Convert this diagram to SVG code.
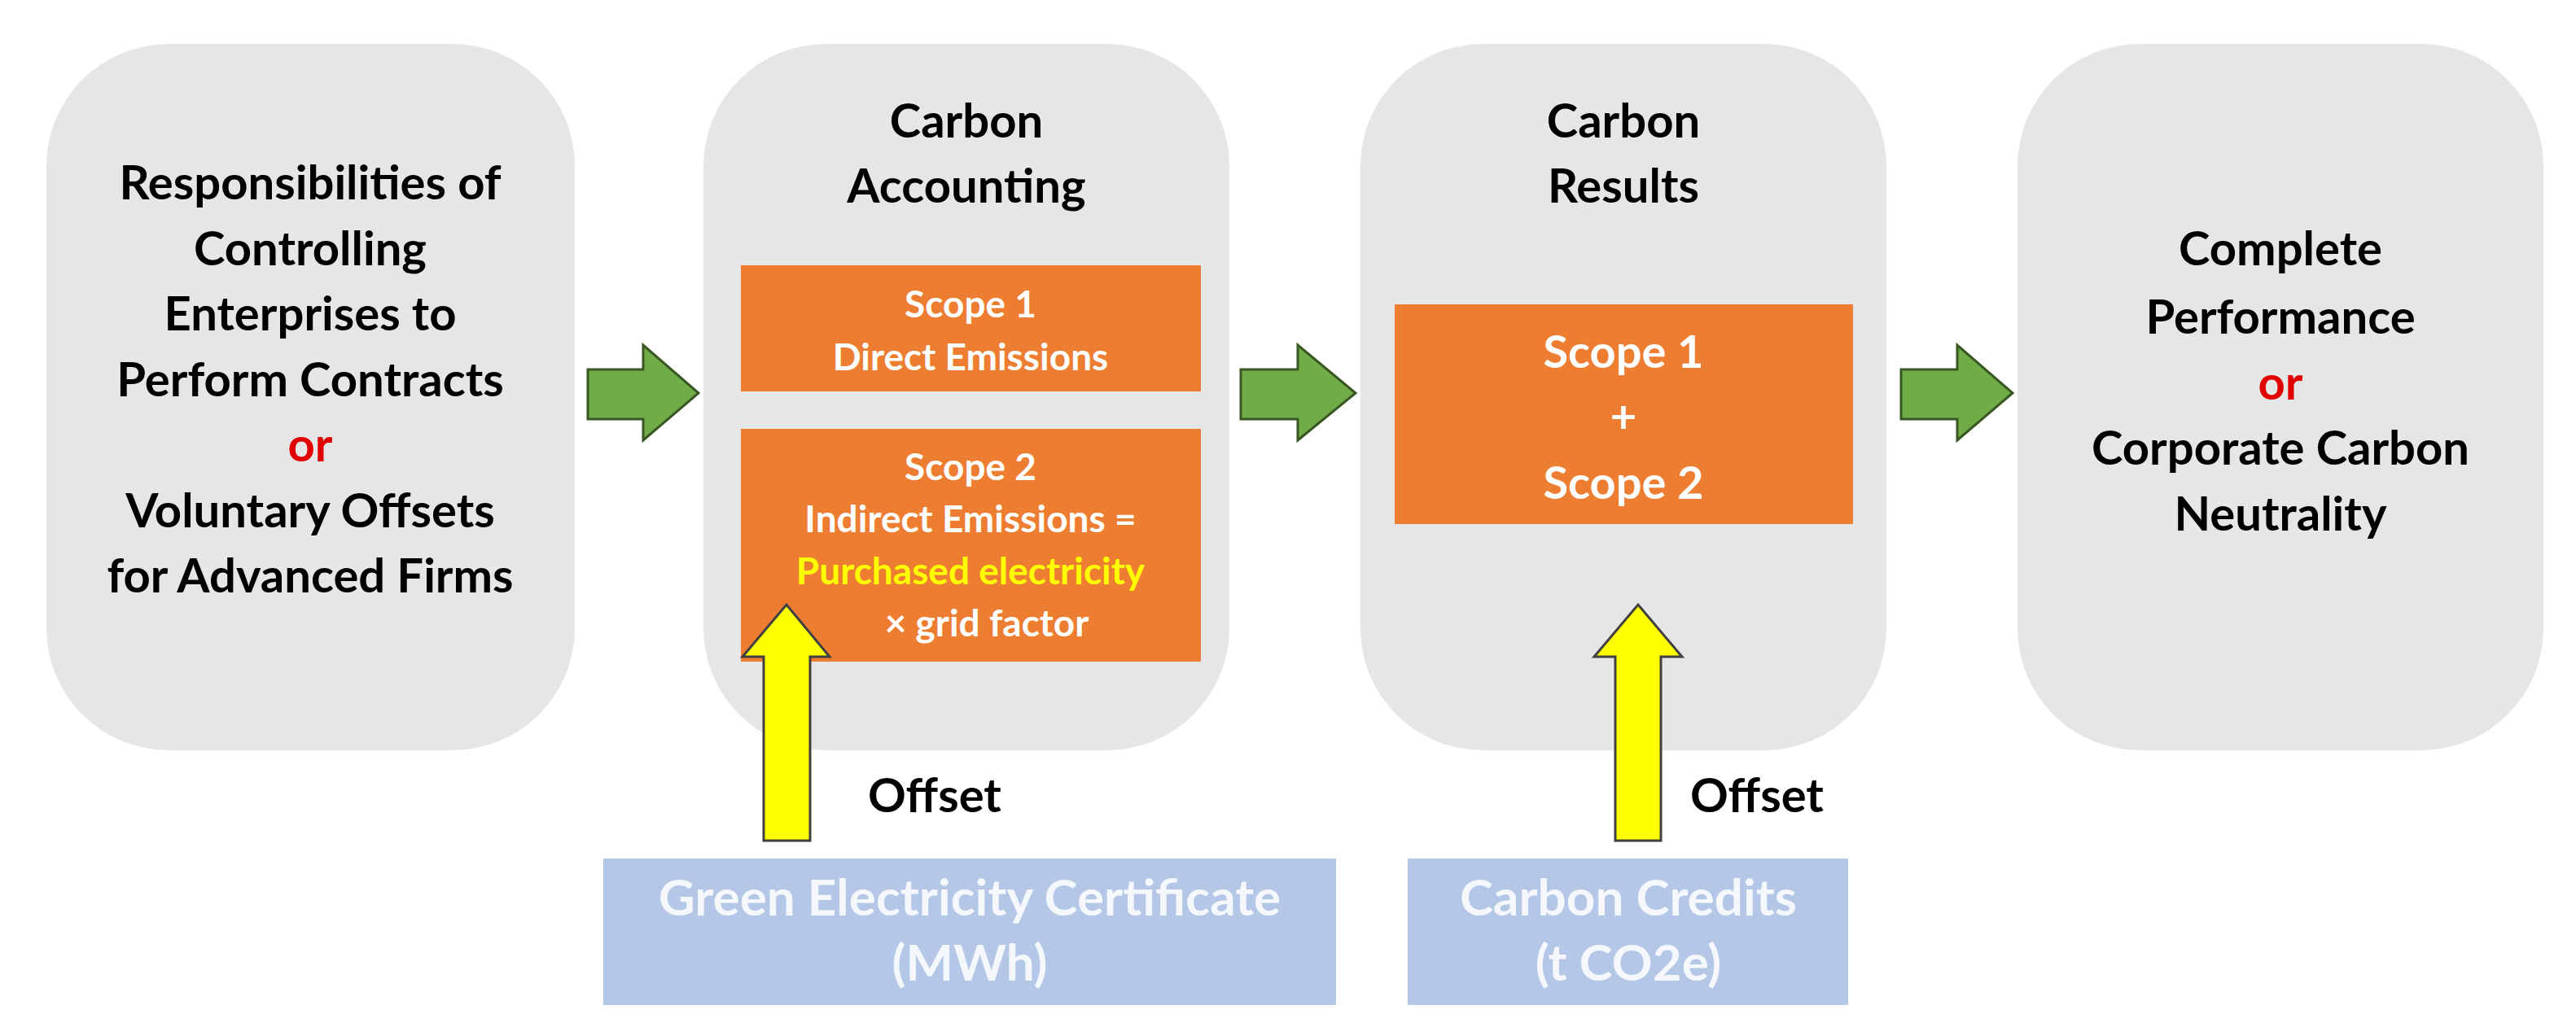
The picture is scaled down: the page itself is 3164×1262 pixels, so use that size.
<svg xmlns="http://www.w3.org/2000/svg" width="3164" height="1262" viewBox="0 0 3164 1262">
<style>
.t{font-family:Lato,"Open Sans",sans-serif;font-weight:bold;text-anchor:middle}
.big{font-size:58px;fill:#000}
.w{fill:#fff}
.box{fill:#e7e6e6}
.or{fill:#ed7d31}
.bl{fill:#b4c7e7}
.ga{fill:#70ad47;stroke:#385723;stroke-width:3}
.ya{fill:#ffff00;stroke:#404040;stroke-width:3}
</style>
<rect width="3164" height="1262" fill="#fff"/>
<g id="n1"><rect class="box" x="57" y="54" width="649" height="868" rx="150"/>
<text class="t big"><tspan x="381" y="245">Responsibilities of</tspan><tspan x="381" y="326">Controlling</tspan><tspan x="381" y="406">Enterprises to</tspan><tspan x="381" y="487">Perform Contracts</tspan><tspan x="381" y="567" fill="#e00000">or</tspan><tspan x="381" y="648">Voluntary Offsets</tspan><tspan x="381" y="728">for Advanced Firms</tspan></text></g>
<g id="n2"><rect class="box" x="864" y="54" width="646" height="868" rx="150"/>
<text class="t big"><tspan x="1187" y="169">Carbon</tspan><tspan x="1187" y="249">Accounting</tspan></text>
<rect class="or" x="910" y="326" width="565" height="155"/>
<text class="t w" font-size="46"><tspan x="1192" y="390">Scope 1</tspan><tspan x="1192" y="455">Direct Emissions</tspan></text>
<rect class="or" x="910" y="527" width="565" height="286"/>
<text class="t w" font-size="46"><tspan x="1192" y="590">Scope 2</tspan><tspan x="1192" y="654">Indirect Emissions =</tspan><tspan x="1192" y="718" fill="#ffff00">Purchased electricity</tspan><tspan x="1212" y="782">× grid factor</tspan></text></g>
<g id="n3"><rect class="box" x="1671" y="54" width="646" height="868" rx="150"/>
<text class="t big"><tspan x="1994" y="169">Carbon</tspan><tspan x="1994" y="249">Results</tspan></text>
<rect class="or" x="1713" y="374" width="563" height="270"/>
<text class="t w" font-size="56"><tspan x="1994" y="452">Scope 1</tspan><tspan x="1994" y="532">+</tspan><tspan x="1994" y="613">Scope 2</tspan></text></g>
<g id="n4"><rect class="box" x="2478" y="54" width="646" height="868" rx="150"/>
<text class="t big"><tspan x="2801" y="326">Complete</tspan><tspan x="2801" y="410">Performance</tspan><tspan x="2801" y="491" fill="#e00000">or</tspan><tspan x="2801" y="571">Corporate Carbon</tspan><tspan x="2801" y="652">Neutrality</tspan></text></g>
<g id="n5"><rect class="bl" x="741" y="1055" width="900" height="180"/>
<text class="t w" font-size="62" fill-opacity="0.85"><tspan x="1191" y="1125">Green Electricity Certificate</tspan><tspan x="1191" y="1205">(MWh)</tspan></text></g>
<g id="n6"><rect class="bl" x="1729" y="1055" width="541" height="180"/>
<text class="t w" font-size="62" fill-opacity="0.85"><tspan x="2000" y="1125">Carbon Credits</tspan><tspan x="2000" y="1205">(t CO2e)</tspan></text></g>
<g id="connectors">
<polygon class="ga" points="722,454 790,454 790,424 858,483 790,541 790,515 722,515"/>
<polygon class="ga" points="1524,454 1594,454 1594,424 1665,483 1594,541 1594,515 1524,515"/>
<polygon class="ga" points="2335,454 2404,454 2404,424 2472,483 2404,541 2404,515 2335,515"/>
<polygon class="ya" points="938,1033 938,807 912,807 966,743 1019,807 995,807 995,1033"/>
<polygon class="ya" points="1984,1033 1984,807 1958,807 2012,743 2066,807 2040,807 2040,1033"/>
<text class="t big" x="1148" y="998">Offset</text>
<text class="t big" x="2158" y="998">Offset</text>
</g>
</svg>
